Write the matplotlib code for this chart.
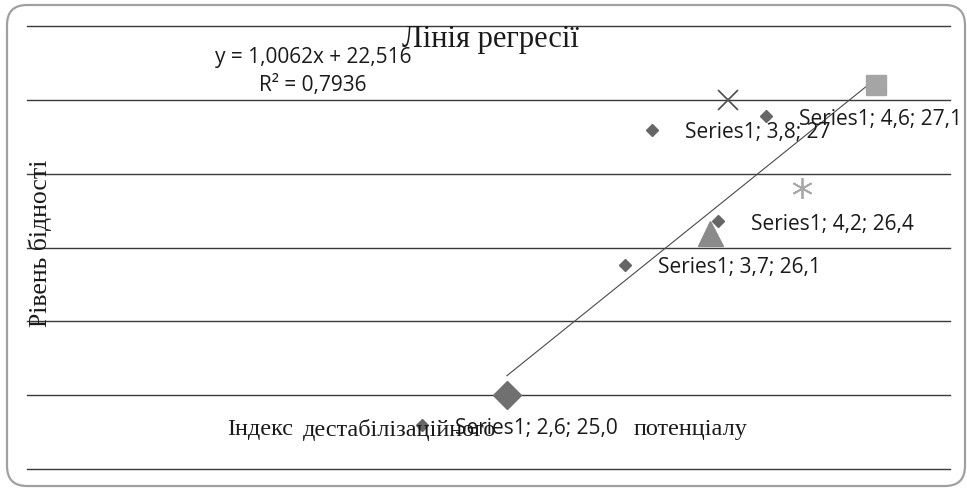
import numpy as np
import matplotlib
matplotlib.use("Agg")
import matplotlib.pyplot as plt
import matplotlib.transforms as mtransforms
from matplotlib.patches import FancyBboxPatch

# data points (each one has its own marker in the chart)
x_vals = [2.6, 3.7, 3.8, 4.2, 4.6]
y_vals = [25.0, 26.1, 27.0, 26.4, 27.1]
labels = ["Series1; 2,6; 25,0", "Series1; 3,7; 26,1", "Series1; 3,8; 27",
          "Series1; 4,2; 26,4", "Series1; 4,6; 27,1"]

slope = 1.0062
intercept = 22.516
r2 = 0.7936

title = "Лінія регресії"
x_label_words = ["Індекс", "дестабілізаційного", "потенціалу"]
y_label = "Рівень бідності"

fig = plt.figure(figsize=(9.67, 4.88), dpi=100)
ax = fig.add_axes([27 / 967, 1 - 469 / 488, 923 / 967, 443 / 488])
ax.set_xlim(0, 5)
ax.set_ylim(24.5, 27.5)
ax.set_yticks(np.arange(24.5, 27.51, 0.5))
ax.grid(axis="y", color="#3a3a3a", lw=1.0)
for gl in ax.get_ygridlines():
    gl.set_clip_on(False)
ax.set_axisbelow(True)
ax.tick_params(left=False, bottom=False, labelleft=False, labelbottom=False)
for s in ax.spines.values():
    s.set_visible(False)

# rounded frame around the chart area (pixel coords)
frame = FancyBboxPatch((7, 2), 958, 481,
                       boxstyle="round,pad=0,rounding_size=20",
                       transform=None, fill=False, ec="#a0a0a0", lw=1.6)
fig.patches.append(frame)

# trendline
xs = np.array([x_vals[0], x_vals[-1]])
ax.plot(xs, slope * xs + intercept, color="#4a4a4a", lw=0.8, zorder=3)

# markers
styles = [
    dict(marker="D", ms=14, color="#707070"),
    dict(marker="^", ms=18, color="#8a8a8a"),
    dict(marker="x", ms=15, color="#555555", mew=1.3),
    dict(marker=(6, 2, 0), ms=15, color="#a8a8a8", mew=1.3),
    dict(marker="s", ms=15, color="#a5a5a5"),
]
for xv, yv, st in zip(x_vals, y_vals, styles):
    ax.plot([xv], [yv], ls="none", zorder=4, **st)

# data labels (moved away from the points, with legend key)
label_shift = [(-85, -30), (-85, -32), (-76, -30), (-84, -33), (-110, -31)]
for xv, yv, lab, (dx, dy) in zip(x_vals, y_vals, labels, label_shift):
    tr = mtransforms.offset_copy(ax.transData, fig=fig, x=dx, y=dy, units="dots")
    ax.plot([xv], [yv], marker="D", ms=6.5, color="#666666", transform=tr,
            ls="none", zorder=5)
    tr2 = mtransforms.offset_copy(ax.transData, fig=fig, x=dx + 33, y=dy - 3,
                                  units="dots")
    ax.text(xv, yv, lab, transform=tr2, fontsize=15, family="Open Sans",
            color="#1a1a1a", ha="left", va="center", zorder=6)

fig.text(313 / 967, 1 - 57 / 488, f"y = {slope:.4f}x + {intercept:.3f}".replace(".", ","),
         fontsize=15, family="Open Sans", ha="center", va="center", color="#1a1a1a")
fig.text(313 / 967, 1 - 86 / 488, f"R² = {r2:.4f}".replace(".", ","),
         fontsize=15, family="Open Sans", ha="center", va="center", color="#1a1a1a")

fig.text(490 / 967, 1 - 40 / 488, title, fontsize=22, family="Liberation Serif",
         ha="center", va="center", color="#1a1a1a")

# x axis title, words spread the way they are in the original
serif = dict(fontsize=17.5, family="Liberation Serif", va="center", color="#1a1a1a")
fig.text(227 / 967, 1 - 430 / 488, x_label_words[0], ha="left", **serif)
fig.text(303 / 967, 1 - 430 / 488, x_label_words[1], ha="left", **serif)
fig.text(747 / 967, 1 - 430 / 488, x_label_words[2], ha="right", **serif)

fig.text(40 / 967, 1 - 243 / 488, y_label, fontsize=18.5, family="Liberation Serif",
         ha="center", va="center", rotation=90, color="#1a1a1a")

fig.savefig("out.png", dpi=100)
